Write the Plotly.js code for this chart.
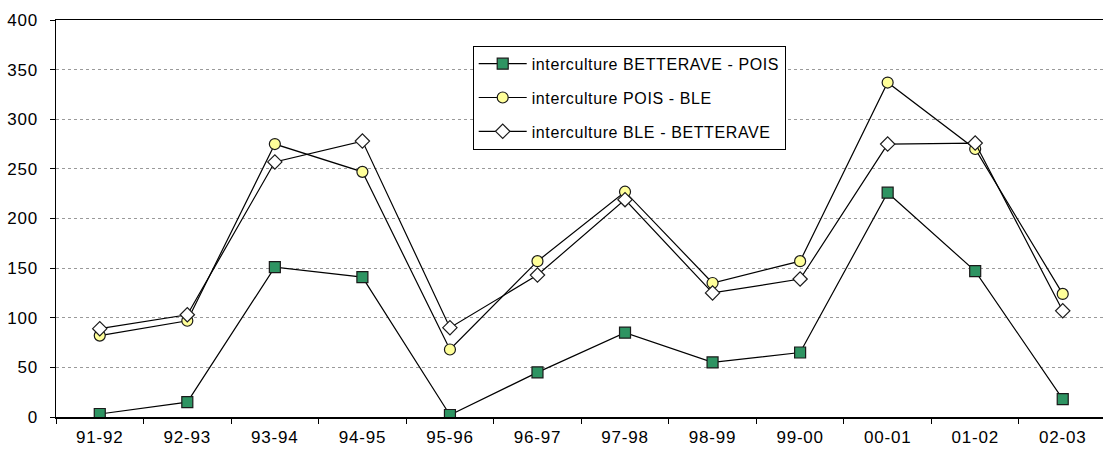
<!DOCTYPE html>
<html>
<head>
<meta charset="utf-8">
<script src="https://cdn.plot.ly/plotly-3.0.1.min.js"></script>
<style>
  html, body { margin: 0; padding: 0; background: #fff; overflow: hidden; }
  #chart { width: 1103px; height: 455px; }
  .xtick text, .ytick text { letter-spacing: 0.8px; }
  .legendtext { letter-spacing: 0.6px; }
</style>
</head>
<body>
<div id="chart"></div>
<script>
// Campaign years
const campagnes = ["91-92", "92-93", "93-94", "94-95", "95-96", "96-97",
                   "97-98", "98-99", "99-00", "00-01", "01-02", "02-03"];

// Values per intercrop period
const betteravePois = [3, 15, 151, 141, 2, 45, 85, 55, 65, 226, 147, 18];
const poisBle       = [82, 97, 275, 247, 68, 157, 227, 135, 157, 337, 270, 124];
const bleBetterave  = [89, 103, 257, 278, 90, 143, 219, 125, 139, 275, 276, 107];

const seriesNames = [
  "interculture BETTERAVE - POIS",
  "interculture POIS - BLE",
  "interculture BLE - BETTERAVE"
];

const FONT = "Liberation Sans, Arial, sans-serif";
const lineStyle = { color: "#000000", width: 1.2 };

const traces = [
  {
    x: campagnes, y: betteravePois, name: seriesNames[0],
    type: "scatter", mode: "lines+markers", legendgroup: "a",
    line: lineStyle,
    marker: { symbol: "square", size: 11, color: "#2E9462",
              line: { color: "#1a1a1a", width: 1.2 } }
  },
  {
    x: campagnes, y: poisBle, name: seriesNames[1],
    type: "scatter", mode: "lines+markers", legendgroup: "b",
    line: lineStyle,
    marker: { symbol: "circle", size: 11, color: "#FFFF99",
              line: { color: "#1a1a1a", width: 1.2 } }
  },
  {
    x: campagnes, y: bleBetterave, name: seriesNames[2],
    type: "scatter", mode: "lines+markers", legendgroup: "c",
    line: lineStyle,
    marker: { symbol: "diamond", size: 11, color: "#FFFFFF",
              line: { color: "#1a1a1a", width: 1.2 } }
  }
];

const layout = {
  width: 1103,
  height: 455,
  margin: { l: 56, r: 0, t: 20, b: 38 },
  paper_bgcolor: "#ffffff",
  plot_bgcolor: "#ffffff",
  font: { family: FONT, size: 16, color: "#000" },
  showlegend: true,
  legend: {
    x: 0.398, y: 0.935, xanchor: "left", yanchor: "top",
    bordercolor: "#000", borderwidth: 1, bgcolor: "#fff",
    traceorder: "grouped", tracegroupgap: 10,
    itemwidth: 48,
    font: { family: FONT, size: 16 }
  },
  xaxis: {
    type: "category",
    range: [-0.5, 11.46],
    tickson: "boundaries",
    ticks: "outside", ticklen: 5, tickcolor: "#000", tickwidth: 1,
    ticklabelstandoff: 4,
    showline: true, linecolor: "#000", linewidth: 1.5, mirror: true,
    showgrid: false, zeroline: false,
    tickfont: { family: FONT, size: 17 }
  },
  yaxis: {
    range: [0, 400],
    dtick: 50,
    ticks: "outside", ticklen: 5, tickcolor: "#000", tickwidth: 1,
    ticklabelstandoff: 8,
    showline: true, linecolor: "#000", linewidth: 1.5,
    showgrid: true, gridcolor: "#9a9a9a", gridwidth: 1, griddash: "dot",
    zeroline: false,
    tickfont: { family: FONT, size: 17 }
  }
};

Plotly.newPlot("chart", traces, layout, { displayModeBar: false, staticPlot: true });
</script>
</body>
</html>
